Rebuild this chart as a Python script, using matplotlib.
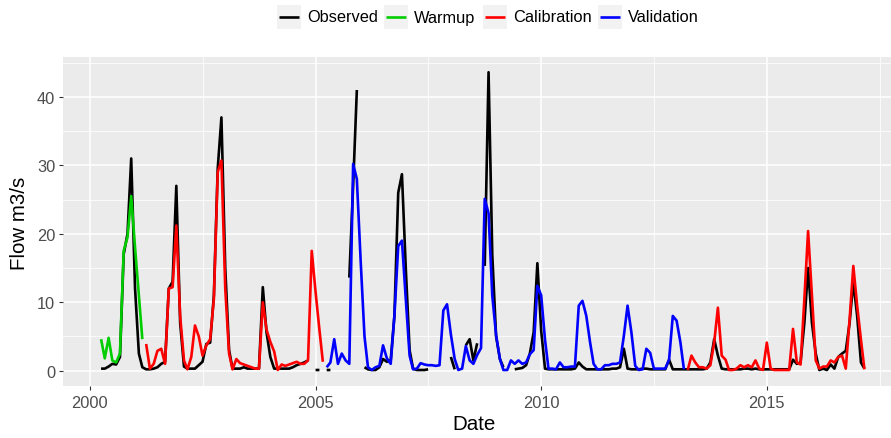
import numpy as np
import pandas as pd
import matplotlib
matplotlib.use('Agg')
import matplotlib.pyplot as plt
from matplotlib.patches import Rectangle
from matplotlib.lines import Line2D

plt.rcParams['font.family'] = ['Liberation Sans', 'DejaVu Sans']

nan = np.nan

# monthly flow (m3/s), April 2000 .. March 2017, one row per Apr-Mar year
observed = [
    0.3, 0.3, 0.6, 1.0, 0.9, 2.0, 17.0, 20.0, 31.0, 12.0, 2.5, 0.5,
    0.2, 0.2, 0.3, 0.5, 1.0, 1.3, 12.0, 13.0, 27.0, 7.0, 0.6, 0.3,
    0.3, 0.3, 0.8, 1.3, 3.9, 4.1, 11.0, 29.5, 37.0, 15.0, 3.0, 0.3,
    0.3, 0.3, 0.5, 0.3, 0.3, 0.3, 0.3, 12.2, 5.6, 2.0, 0.3, 0.3,
    0.3, 0.3, 0.3, 0.5, 0.8, 1.0, 1.2, 1.5, nan, 0.1, 0.1, nan,
    0.1, 0.1, nan, nan, nan, nan, 13.6, 27.0, 41.0, nan, 0.5, 0.2,
    0.1, 0.1, 0.5, 1.7, 1.3, 1.5, 8.0, 26.0, 28.7, 15.0, 3.0, 0.3,
    0.1, 0.1, 0.1, 0.2, nan, nan, nan, nan, nan, 2.0, 0.2, nan,
    nan, 3.7, 4.6, 1.5, 4.0, nan, 15.3, 43.6, 17.0, 5.0, 1.7, 0.5,
    nan, nan, 0.2, 0.3, 0.4, 0.8, 2.5, 5.6, 15.7, 5.8, 0.3, 0.2,
    0.2, 0.2, 0.2, 0.2, 0.2, 0.2, 0.3, 1.2, 0.6, 0.2, 0.2, 0.2,
    0.2, 0.2, 0.2, 0.2, 0.3, 0.3, 0.5, 3.2, 0.3, 0.2, 0.2, 0.2,
    0.3, 0.3, 0.2, 0.2, 0.2, 0.2, 0.2, 1.6, 0.2, 0.2, 0.2, 0.2,
    0.2, 0.2, 0.2, 0.2, 0.2, 0.3, 1.2, 4.6, 2.2, 0.3, 0.2, 0.2,
    0.2, 0.2, 0.2, 0.3, 0.3, 0.2, 0.3, 0.2, 0.2, 0.2, 0.2, 0.2,
    0.2, 0.2, 0.2, 0.2, 1.6, 1.0, 1.2, 7.0, 15.0, 7.0, 2.5, 0.1,
    0.3, 0.1, 0.9, 0.3, 2.0, 2.5, 2.9, 7.0, 13.0, 8.0, 1.2, 0.3,
]

simulated = [
    4.6, 1.8, 4.8, 1.5, 1.2, 2.5, 17.5, 19.5, 25.5, 18.0, 11.0, 4.6,
    3.9, 0.3, 1.0, 2.9, 3.2, 1.0, 12.0, 12.2, 21.2, 8.0, 1.5, 0.2,
    2.0, 6.6, 5.0, 2.2, 3.7, 4.6, 10.5, 29.0, 30.7, 12.0, 2.5, 0.2,
    1.7, 1.1, 0.9, 0.7, 0.5, 0.3, 0.3, 10.0, 6.0, 4.2, 2.8, 0.1,
    0.9, 0.7, 0.9, 1.1, 1.3, 1.0, 1.0, 1.5, 17.5, 11.5, 6.0, 1.3,
    0.5, 1.2, 4.6, 1.0, 2.5, 1.5, 1.0, 30.2, 28.0, 16.0, 5.0, 0.5,
    0.1, 0.5, 0.7, 3.7, 1.8, 1.0, 8.0, 18.2, 19.0, 10.5, 2.2, 0.2,
    0.3, 1.1, 0.9, 0.8, 0.8, 0.7, 0.8, 8.8, 9.7, 5.3, 1.7, 0.1,
    0.3, 3.6, 1.5, 1.0, 2.3, 3.3, 25.1, 23.0, 11.0, 5.2, 1.7, 0.1,
    0.1, 1.5, 1.0, 1.5, 1.0, 1.2, 2.4, 3.0, 12.4, 11.0, 4.5, 0.3,
    0.3, 0.2, 1.2, 0.5, 0.5, 0.6, 0.6, 9.5, 10.2, 8.0, 4.1, 1.0,
    0.2, 0.2, 0.8, 0.8, 1.0, 1.0, 1.2, 5.1, 9.5, 5.6, 0.7, 0.1,
    0.2, 3.2, 2.6, 0.3, 0.3, 0.3, 0.3, 1.6, 8.0, 7.3, 4.1, 0.2,
    0.1, 2.2, 1.2, 0.5, 0.5, 0.3, 0.8, 4.1, 9.2, 2.2, 1.6, 0.1,
    0.1, 0.3, 0.8, 0.5, 0.8, 0.5, 1.5, 0.3, 0.1, 4.1, 0.3, 0.1,
    0.1, 0.1, 0.1, 0.1, 6.1, 1.2, 0.9, 10.5, 20.4, 11.0, 1.5, 0.3,
    0.6, 0.6, 1.5, 1.2, 2.0, 2.2, 0.3, 7.5, 15.3, 9.5, 4.5, 0.2,
]

period_names = ['Warmup', 'Calibration', 'Validation', 'Calibration']
period_starts = ['2000-04-01', '2001-04-01', '2005-04-01', '2013-04-01']
legend_names = ['Observed', 'Warmup', 'Calibration', 'Validation']
colors = {'Observed': '#000000', 'Warmup': '#00CD00',
          'Calibration': '#FF0000', 'Validation': '#0000FF'}

W, H = 891, 439
fig = plt.figure(figsize=(W / 100, H / 100), dpi=100)

# panel placed in pixels (right edge runs past the image like the reference)
left, right, top, bottom = 62.9, 902.6, 58.3, 386.6
ax = fig.add_axes([left / W, 1 - bottom / H, (right - left) / W, (bottom - top) / H])
ax.set_facecolor('#EBEBEB')
for s in ax.spines.values():
    s.set_visible(False)

months = pd.date_range('2000-04-01', periods=len(observed), freq='MS')
obs = np.array(observed)
sim = np.array(simulated)
lw = 1.9

ax.plot(months, obs, color=colors['Observed'], lw=lw,
        solid_capstyle='butt', solid_joinstyle='round', zorder=3)

edges = list(pd.to_datetime(period_starts)) + [months[-1] + pd.Timedelta(days=1)]
for name, a, b in zip(period_names, edges[:-1], edges[1:]):
    m = (months >= a) & (months < b)
    ax.plot(months[m], sim[m], color=colors[name], lw=lw,
            solid_capstyle='butt', solid_joinstyle='round', zorder=4)

major_years = [2000, 2005, 2010, 2015]
ax.set_xticks([pd.Timestamp(f'{y}-01-01') for y in major_years])
ax.set_xticklabels([str(y) for y in major_years])
ax.set_xticks([pd.Timestamp(f'{y}-07-02') for y in [2002, 2007, 2012, 2017]], minor=True)
ax.set_yticks([0, 10, 20, 30, 40])
ax.set_yticks([5, 15, 25, 35, 45], minor=True)

# ggplot-style 5% expansion (after ticks so they do not widen the view)
span = months[-1] - months[0]
ax.set_xlim(months[0] - 0.05 * span, months[-1] + 0.05 * span)
ymax = np.nanmax(obs)
ax.set_ylim(-0.05 * ymax, 1.05 * ymax)

ax.grid(which='major', color='white', lw=1.1)
ax.grid(which='minor', color='white', lw=0.55)
ax.set_axisbelow(True)
ax.tick_params(which='major', length=3, width=0.8, color='#333333',
               labelcolor='#4D4D4D', labelsize=11.8, pad=2.5)
ax.tick_params(axis='x', which='major', pad=3.5)
ax.tick_params(which='minor', length=0)

fig.text(474 / W, 1 - 424.5 / H, 'Date', ha='center', va='center', fontsize=14.8)
fig.text(20 / W, 1 - 223 / H, 'Flow m3/s', ha='center', va='center',
         rotation=90, fontsize=14.8)

# legend on top, ggplot style keys
key_left = [277, 384, 483, 598]
key_size = 24
ly = 18
for name, kx in zip(legend_names, key_left):
    fig.patches.append(Rectangle((kx / W, 1 - (ly + key_size / 2) / H),
                                 key_size / W, key_size / H,
                                 transform=fig.transFigure,
                                 facecolor='#F2F2F2', edgecolor='none'))
    fig.add_artist(Line2D([(kx + 2) / W, (kx + key_size - 2) / W],
                          [1 - ly / H, 1 - ly / H], transform=fig.transFigure,
                          color=colors[name], lw=lw, solid_capstyle='butt'))
    fig.text((kx + key_size + 6) / W, 1 - ly / H, name, ha='left',
             va='center', fontsize=11.8)

fig.savefig('out.png', dpi=100)
